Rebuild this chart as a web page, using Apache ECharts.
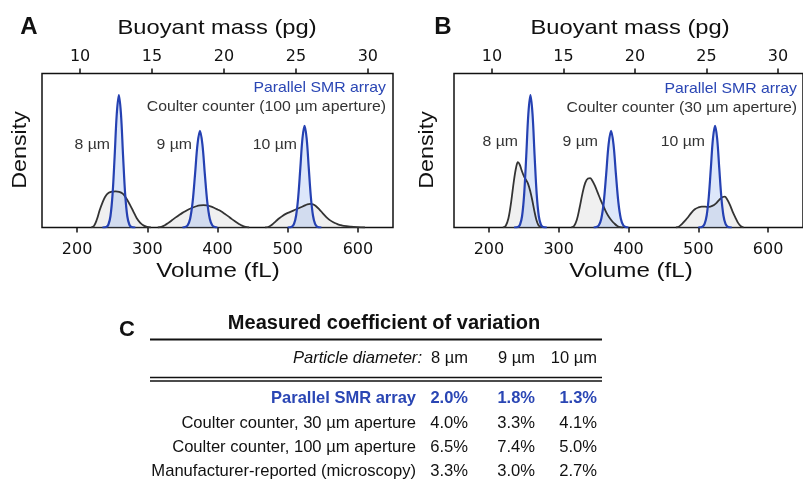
<!DOCTYPE html>
<html>
<head>
<meta charset="utf-8">
<script src="https://cdn.jsdelivr.net/npm/echarts@6/dist/echarts.min.js"></script>
<style>
html,body{margin:0;padding:0;background:#fff;}
#c{width:803px;height:485px;}
</style>
</head>
<body>
<div id="c"></div>
<script>
// ---------- data ----------
const volTicks = [200, 300, 400, 500, 600];
const massTicks = [10, 15, 20, 25, 30];
const volRange = [150, 650];
const massRange = [7.35, 31.75];

// Parallel SMR array density curves (volume fL, relative density)
const smr8 = [[236,0],[241.5,0.003],[244.5,0.018],[247.5,0.073],[250.5,0.215],[253.5,0.464],[256.5,0.737],[259.5,0.86],[262.5,0.737],[265.5,0.464],[268.5,0.215],[271.5,0.073],[274.5,0.018],[277.5,0.003],[283,0]];
const smr9 = [[350,0],[354,0.003],[357.5,0.015],[361,0.057],[364.5,0.163],[368,0.345],[371.5,0.54],[375,0.627],[378.5,0.54],[382,0.345],[385.5,0.163],[389,0.057],[392.5,0.015],[396,0.003],[400,0]];
const smr10 = [[500,0],[506,0.005],[509,0.023],[512,0.078],[515,0.198],[518,0.387],[521,0.578],[524,0.66],[527,0.578],[530,0.387],[533,0.198],[536,0.078],[539,0.023],[542,0.005],[548,0]];

// Coulter counter, 100 µm aperture
const cc100_8 = [[220,0],[224,0.01],[228,0.05],[232,0.11],[236,0.16],[240,0.2],[245,0.225],[250,0.233],[255,0.234],[260,0.232],[265,0.22],[270,0.19],[275,0.15],[280,0.105],[285,0.06],[290,0.03],[295,0.012],[300,0.004],[305,0]];
const cc100_9 = [[315,0],[320,0.005],[325,0.015],[330,0.03],[335,0.047],[340,0.064],[345,0.08],[350,0.095],[355,0.108],[360,0.12],[365,0.13],[370,0.138],[375,0.143],[380,0.145],[385,0.143],[390,0.137],[395,0.128],[400,0.117],[405,0.105],[410,0.09],[415,0.074],[420,0.056],[425,0.04],[430,0.025],[435,0.012],[440,0.004],[445,0]];
const cc100_10 = [[468,0],[473,0.005],[478,0.02],[483,0.04],[488,0.06],[493,0.077],[498,0.09],[503,0.1],[508,0.11],[513,0.12],[518,0.13],[523,0.14],[528,0.15],[532,0.153],[536,0.15],[540,0.14],[545,0.118],[550,0.092],[555,0.068],[560,0.048],[565,0.034],[570,0.024],[575,0.016],[580,0.01],[590,0.005],[600,0.002],[610,0]];

// Coulter counter, 30 µm aperture
const cc30_8 = [[220,0],[224,0.01],[228,0.06],[232,0.17],[236,0.31],[239,0.39],[241.5,0.424],[244,0.41],[247,0.37],[250,0.335],[253,0.31],[256,0.285],[259,0.24],[262,0.18],[265,0.11],[268,0.05],[271,0.015],[275,0]];
const cc30_9 = [[318,0],[322,0.01],[326,0.05],[330,0.13],[334,0.22],[338,0.29],[342,0.318],[345,0.32],[348,0.305],[352,0.27],[356,0.225],[360,0.18],[364,0.14],[368,0.1],[372,0.068],[376,0.044],[380,0.025],[384,0.01],[388,0.002],[392,0]];
const cc30_10 = [[468,0],[472,0.005],[476,0.02],[480,0.04],[485,0.065],[490,0.095],[495,0.118],[500,0.13],[505,0.136],[510,0.135],[515,0.134],[520,0.14],[525,0.155],[530,0.18],[535,0.198],[538,0.2],[541,0.185],[545,0.15],[549,0.105],[553,0.066],[557,0.03],[561,0.008],[565,0]];

// table
const tableCols = ['8 µm', '9 µm', '10 µm'];
const tableRows = ['Parallel SMR array', 'Coulter counter, 30 µm aperture', 'Coulter counter, 100 µm aperture', 'Manufacturer-reported (microscopy)'];
const cvSMR = [2.0, 1.8, 1.3];
const cvCC30 = [4.0, 3.3, 4.1];
const cvCC100 = [6.5, 7.4, 5.0];
const cvMaker = [3.3, 3.0, 2.7];
const peakLabels = ['8 µm', '9 µm', '10 µm'];

// ---------- chart ----------
const FONT = "'Liberation Sans', Arial, Helvetica, sans-serif";
const TICKFONT = "'DejaVu Sans', 'Liberation Sans', sans-serif";
const BLUE = '#2541b2';
const BLUE_TXT = '#2a46b4';
const GRAY_LINE = '#333333';
const chart = echarts.init(document.getElementById('c'), null, {renderer: 'canvas'});

const grids = [
  {left: 42, top: 73.5, width: 351, height: 154},
  {left: 454, top: 73.5, width: 350, height: 154}
];

function xAxes(g) {
  return [
    {gridIndex: g, type: 'value', position: 'bottom', min: volRange[0], max: volRange[1],
     axisLine: {show: false}, splitLine: {show: false},
     axisTick: {show: true, inside: false, length: 5, customValues: volTicks, lineStyle: {color: '#111', width: 1.5}},
     axisLabel: {customValues: volTicks, fontSize: 16, color: '#111', fontFamily: TICKFONT, margin: 14}},
    {gridIndex: g, type: 'value', position: 'top', min: massRange[0], max: massRange[1],
     axisLine: {show: false}, splitLine: {show: false},
     axisTick: {show: true, inside: false, length: 5, customValues: massTicks, lineStyle: {color: '#111', width: 1.5}},
     axisLabel: {customValues: massTicks, fontSize: 16, color: '#111', fontFamily: TICKFONT, margin: 9}}
  ];
}

function curve(data, xi, yi, kind) {
  const isBlue = kind === 'blue';
  return [
    {type: 'line', xAxisIndex: xi, yAxisIndex: yi, data: data, smooth: 0.35, symbol: 'none',
     silent: true, z: isBlue ? 3 : 2,
     lineStyle: {width: 0, opacity: 0},
     areaStyle: {color: isBlue ? 'rgba(140,172,238,0.42)' : 'rgba(215,215,215,0.55)', origin: 'start'}},
    {type: 'line', xAxisIndex: xi, yAxisIndex: yi, data: data, smooth: 0.35, symbol: 'none',
     silent: true, z: isBlue ? 5 : 4,
     lineStyle: {width: isBlue ? 2.2 : 1.8, color: isBlue ? BLUE : GRAY_LINE}}
  ];
}

const series = [];
[[cc100_8, cc100_9, cc100_10], [cc30_8, cc30_9, cc30_10]].forEach((grayList, p) => {
  const xi = p * 2, yi = p;
  grayList.forEach(d => series.push(...curve(d, xi, yi, 'gray')));
  [smr8, smr9, smr10].forEach(d => series.push(...curve(d, xi, yi, 'blue')));
});

function txt(x, y, text, opt, sx, rot) {
  const el = {type: 'text', x: x, y: y, silent: true, z: 10,
    style: Object.assign({text: text, fontFamily: FONT, fontSize: 16, fill: '#111', align: 'center', verticalAlign: 'middle'}, opt || {})};
  if (sx) el.scaleX = sx;
  if (rot) el.rotation = rot;
  return el;
}
function hline(x1, x2, y, w) {
  return {type: 'line', silent: true, z: 10, shape: {x1: x1, y1: y, x2: x2, y2: y}, style: {stroke: '#111', lineWidth: w}};
}

const graphics = [];
const LSX = 1.09;
// Panel A
graphics.push(txt(29, 27, 'A', {fontSize: 24, fontWeight: 'bold'}));
graphics.push(txt(217, 28, 'Buoyant mass (pg)', {fontSize: 21}, 1.13));
graphics.push(txt(218, 271, 'Volume (fL)', {fontSize: 21}, 1.15));
graphics.push(txt(20, 150, 'Density', {fontSize: 21}, 1.11, Math.PI / 2));
graphics.push(txt(386, 88, 'Parallel SMR array', {fontSize: 14.5, fill: BLUE_TXT, align: 'right'}, LSX));
graphics.push(txt(386, 107, 'Coulter counter (100 µm aperture)', {fontSize: 14.5, fill: '#333', align: 'right'}, LSX));
graphics.push(txt(110, 145, peakLabels[0], {fontSize: 14.5, fill: '#333', align: 'right'}, LSX));
graphics.push(txt(192, 145, peakLabels[1], {fontSize: 14.5, fill: '#333', align: 'right'}, LSX));
graphics.push(txt(297, 145, peakLabels[2], {fontSize: 14.5, fill: '#333', align: 'right'}, LSX));
// Panel B
graphics.push(txt(443, 27, 'B', {fontSize: 24, fontWeight: 'bold'}));
graphics.push(txt(630, 28, 'Buoyant mass (pg)', {fontSize: 21}, 1.13));
graphics.push(txt(631, 271, 'Volume (fL)', {fontSize: 21}, 1.15));
graphics.push(txt(427, 150, 'Density', {fontSize: 21}, 1.11, Math.PI / 2));
graphics.push(txt(797, 89, 'Parallel SMR array', {fontSize: 14.5, fill: BLUE_TXT, align: 'right'}, LSX));
graphics.push(txt(797, 108, 'Coulter counter (30 µm aperture)', {fontSize: 14.5, fill: '#333', align: 'right'}, LSX));
graphics.push(txt(518, 142, peakLabels[0], {fontSize: 14.5, fill: '#333', align: 'right'}, LSX));
graphics.push(txt(598, 142, peakLabels[1], {fontSize: 14.5, fill: '#333', align: 'right'}, LSX));
graphics.push(txt(705, 142, peakLabels[2], {fontSize: 14.5, fill: '#333', align: 'right'}, LSX));

// Panel C (table)
graphics.push(txt(127, 330, 'C', {fontSize: 22, fontWeight: 'bold'}));
graphics.push(txt(384, 323, 'Measured coefficient of variation', {fontSize: 20, fontWeight: 'bold'}));
graphics.push(hline(150, 602, 339.5, 2));
graphics.push(txt(422, 358, 'Particle diameter:', {fontSize: 16.6, fontStyle: 'italic', align: 'right'}));
const colRight = [468, 535, 597];
tableCols.forEach((c, i) => graphics.push(txt(colRight[i], 358, c, {fontSize: 16.5, align: 'right'})));
graphics.push(hline(150, 602, 377.5, 1.5));
graphics.push(hline(150, 602, 381, 1.5));
const rowY = [398.5, 423, 447, 471.5];
const rowVals = [cvSMR, cvCC30, cvCC100, cvMaker];
tableRows.forEach((r, ri) => {
  const isSMR = ri === 0;
  const opt = isSMR ? {fontSize: 16.5, fontWeight: 'bold', fill: BLUE_TXT, align: 'right'} : {fontSize: 16.6, align: 'right'};
  graphics.push(txt(416, rowY[ri], r, opt));
  rowVals[ri].forEach((v, ci) => graphics.push(txt(colRight[ci], rowY[ri], v.toFixed(1) + '%', opt)));
});

chart.setOption({
  animation: false,
  backgroundColor: '#fff',
  grid: grids.map(g => Object.assign({show: true, borderColor: '#111', borderWidth: 1.5, backgroundColor: 'transparent', containLabel: false}, g)),
  xAxis: [...xAxes(0), ...xAxes(1)],
  yAxis: [0, 1].map(g => ({gridIndex: g, type: 'value', min: 0, max: 1, show: true,
    axisLine: {show: false}, axisTick: {show: false}, axisLabel: {show: false}, splitLine: {show: false}})),
  series: series,
  graphic: graphics
});
</script>
</body>
</html>
